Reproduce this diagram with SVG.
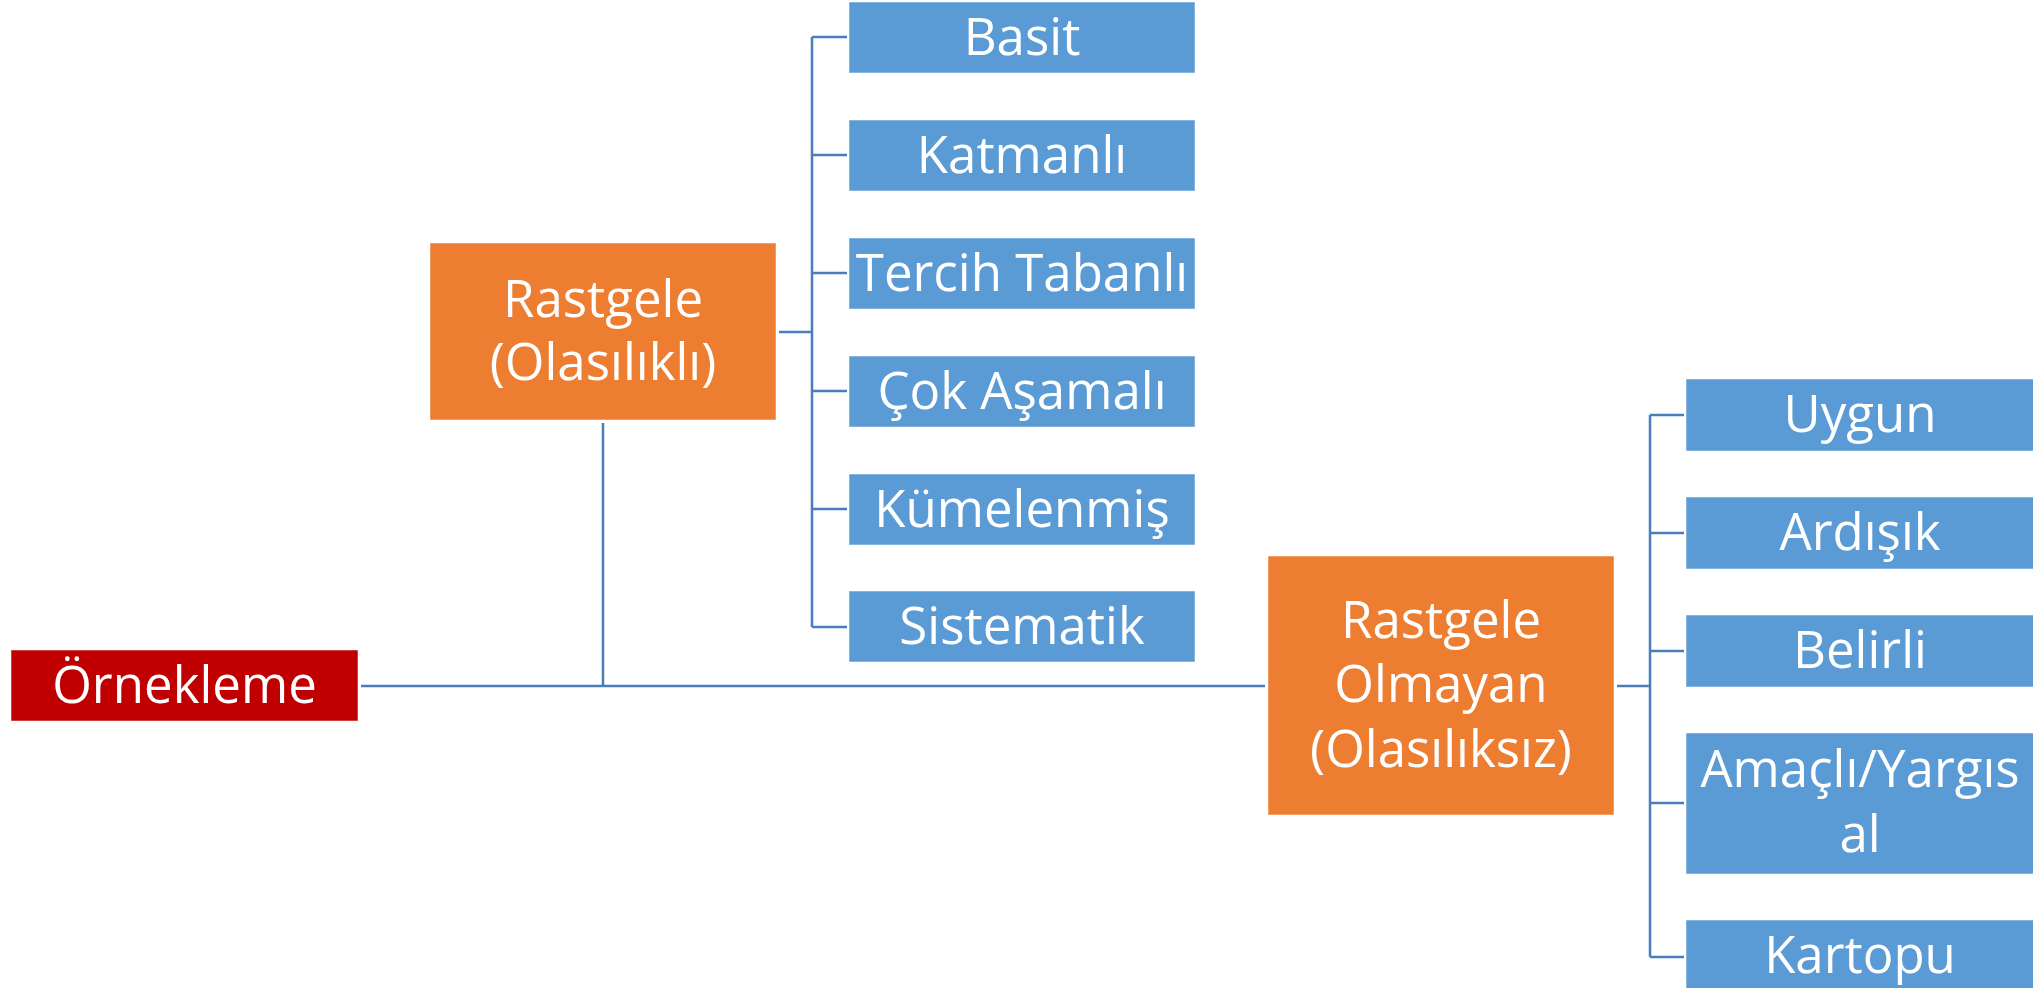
<svg xmlns="http://www.w3.org/2000/svg" width="2033" height="988" viewBox="0 0 2033 988">
  <style>
    .root { fill: #C00000; }
    .cat { fill: #ED7D31; }
    .leaf { fill: #5B9BD5; }
    .box { stroke: #ffffff; stroke-opacity: 0.5; stroke-width: 1; }
    .lbl { fill: #ffffff; font-family: "Open Sans", "Noto Sans", sans-serif; font-size: 51px; text-anchor: middle; }
    .conn { stroke: #4A7EBB; stroke-width: 2.5; fill: none; }
  </style>
  <rect width="2033" height="988" fill="#ffffff"/>

  <!-- connectors -->
  <g id="connectors">
    <path class="conn" d="M361 686 H1265" stroke-width="3"/>
    <path class="conn" d="M603 423 V686"/>
    <path class="conn" d="M779 332 H812"/>
    <path class="conn" d="M812 37 V627"/>
    <path class="conn" d="M812 37 H847 M812 155 H847 M812 273 H847 M812 391 H847 M812 509 H847 M812 627 H847"/>
    <path class="conn" d="M1617 686 H1650"/>
    <path class="conn" d="M1650 415 V957"/>
    <path class="conn" d="M1650 415 H1684 M1650 533 H1684 M1650 651 H1684 M1650 803 H1684 M1650 957 H1684"/>
  </g>

  <g id="ornekleme">
    <rect class="root box" x="11" y="650" width="347" height="71"/>
    <text class="lbl" x="184.5" y="703">Örnekleme</text>
  </g>

  <g id="rastgele">
    <rect class="cat box" x="430" y="243" width="346" height="177"/>
    <text class="lbl" x="603" y="317">Rastgele</text>
    <text class="lbl" x="603" y="380">(Olasılıklı)</text>
  </g>

  <g id="rastgele-olmayan">
    <rect class="cat box" x="1268" y="556" width="346" height="259"/>
    <text class="lbl" x="1441" y="638">Rastgele</text>
    <text class="lbl" x="1441" y="702">Olmayan</text>
    <text class="lbl" x="1441" y="767">(Olasılıksız)</text>
  </g>

  <g id="basit">
    <rect class="leaf box" x="849" y="2" width="346" height="71"/>
    <text class="lbl" x="1022" y="55">Basit</text>
  </g>
  <g id="katmanli">
    <rect class="leaf box" x="849" y="120" width="346" height="71"/>
    <text class="lbl" x="1022" y="173">Katmanlı</text>
  </g>
  <g id="tercih-tabanli">
    <rect class="leaf box" x="849" y="238" width="346" height="71"/>
    <text class="lbl" x="1022" y="291">Tercih Tabanlı</text>
  </g>
  <g id="cok-asamali">
    <rect class="leaf box" x="849" y="356" width="346" height="71"/>
    <text class="lbl" x="1022" y="409">Çok Aşamalı</text>
  </g>
  <g id="kumelenmis">
    <rect class="leaf box" x="849" y="474" width="346" height="71"/>
    <text class="lbl" x="1022" y="527">Kümelenmiş</text>
  </g>
  <g id="sistematik">
    <rect class="leaf box" x="849" y="591" width="346" height="71"/>
    <text class="lbl" x="1022" y="644">Sistematik</text>
  </g>

  <g id="uygun">
    <rect class="leaf box" x="1686" y="379" width="350" height="72"/>
    <text class="lbl" x="1860" y="432">Uygun</text>
  </g>
  <g id="ardisik">
    <rect class="leaf box" x="1686" y="497" width="350" height="72"/>
    <text class="lbl" x="1860" y="550">Ardışık</text>
  </g>
  <g id="belirli">
    <rect class="leaf box" x="1686" y="615" width="350" height="72"/>
    <text class="lbl" x="1860" y="668">Belirli</text>
  </g>
  <g id="amacli-yargisal">
    <rect class="leaf box" x="1686" y="733" width="350" height="141"/>
    <text class="lbl" x="1860" y="787">Amaçlı/Yargıs</text>
    <text class="lbl" x="1860" y="852">al</text>
  </g>
  <g id="kartopu">
    <rect class="leaf box" x="1686" y="920" width="350" height="72"/>
    <text class="lbl" x="1860" y="973">Kartopu</text>
  </g>
</svg>
